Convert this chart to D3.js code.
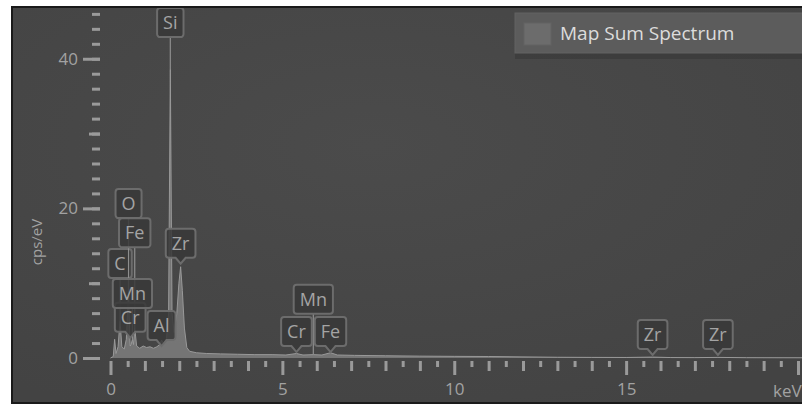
<!DOCTYPE html>
<html>
<head>
<meta charset="utf-8">
<script src="https://cdn.jsdelivr.net/npm/d3@7"></script>
<style>
  html, body { margin: 0; padding: 0; background: #fff; }
  svg { display: block; }
  text { font-family: "Open Sans", "Noto Sans", sans-serif; }
</style>
</head>
<body>
<div id="chart"></div>
<script>
// Spectrum: energy (keV) and counts (cps/eV)
const energies = [0.00, 0.08, 0.12, 0.16, 0.22, 0.277, 0.33, 0.40, 0.46, 0.525, 0.56, 0.573, 0.60,
  0.637, 0.67, 0.705, 0.76, 0.85, 0.95, 1.05, 1.15, 1.25, 1.35, 1.43, 1.486, 1.55, 1.63, 1.69,
  1.74, 1.79, 1.85, 1.93, 1.99, 2.04, 2.09, 2.15, 2.22, 2.30, 2.50, 2.80, 3.20, 3.70, 4.20, 4.70,
  5.10, 5.41, 5.60, 5.90, 6.15, 6.40, 6.60, 7.10, 8.00, 9.00, 10.0, 11.0, 12.0, 13.0, 14.0, 15.0,
  15.77, 16.3, 17.0, 17.67, 18.5, 20.2];
const counts = [0.0, 0.2, 2.5, 0.6, 1.5, 5.0, 1.5, 1.2, 2.5, 9.0, 3.0, 1.6, 1.8,
  2.5, 1.8, 4.0, 1.6, 1.3, 1.6, 1.4, 1.5, 1.3, 1.5, 1.8, 2.4, 1.9, 2.6, 6.0,
  38.6, 6.0, 3.4, 6.0, 10.0, 12.2, 9.0, 4.0, 1.4, 0.9, 0.7, 0.6, 0.55, 0.5, 0.45, 0.45,
  0.4, 0.6, 0.4, 0.45, 0.4, 0.7, 0.4, 0.35, 0.3, 0.25, 0.22, 0.2, 0.15, 0.1, 0.08, 0.07,
  0.12, 0.06, 0.05, 0.08, 0.04, 0.03];

// Peak labels: element, line energy (keV), label anchor height (cps/eV)
const labelNames = ['C', 'O', 'Cr', 'Mn', 'Fe', 'Al', 'Si', 'Zr', 'Cr', 'Mn', 'Fe', 'Zr', 'Zr'];
const labelEnergies = [0.277, 0.525, 0.573, 0.637, 0.705, 1.486, 1.74, 2.04, 5.41, 5.90, 6.40, 15.77, 17.67];
const labelLevels = [10.7, 18.7, 2.7, 6.7, 14.8, 1.6, 42.9, 12.6, 0.8, 5.9, 0.8, 0.4, 0.4];

const yMinorTicks = d3.range(0, 47, 2);
const yMidTicks = [10, 30];
const yMajorTicks = [0, 20, 40];
const xHalfTicks = d3.range(0.5, 20.5, 1);
const xUnitTicks = d3.range(0, 21, 1).filter(d => d % 5 !== 0);
const xMajorTicks = [0, 5, 10, 15, 20];
const xLabels = [0, 5, 10, 15];
const seriesName = 'Map Sum Spectrum';

const W = 802, H = 405;
const svg = d3.select('#chart').append('svg').attr('width', W).attr('height', H);

const defs = svg.append('defs');
const grad = defs.append('radialGradient').attr('id', 'bg')
  .attr('cx', '45%').attr('cy', '35%').attr('r', '75%');
grad.append('stop').attr('offset', '0%').attr('stop-color', '#4b4b4b');
grad.append('stop').attr('offset', '100%').attr('stop-color', '#434343');
defs.append('clipPath').attr('id', 'clip')
  .append('rect').attr('x', 13).attr('y', 8).attr('width', W).attr('height', 394);

// Panel
svg.append('rect')
  .attr('x', 12).attr('y', 7).attr('width', W).attr('height', 396)
  .attr('fill', 'url(#bg)').attr('stroke', '#1a1a1a').attr('stroke-width', 2);

// Scales
const x = d3.scaleLinear().domain([0, 20]).range([110.5, 798]);
const y = d3.scaleLinear().domain([0, 47]).range([358, 6.4]);

const plot = svg.append('g').attr('clip-path', 'url(#clip)');

// Spectrum
const spec = energies.map((e, i) => ({e, c: counts[i]}));
plot.append('path')
  .datum(spec)
  .attr('d', d3.area().x(d => x(d.e)).y0(y(0)).y1(d => y(d.c)))
  .attr('fill', '#8a8a8a').attr('fill-opacity', 0.7);
plot.append('path')
  .datum(spec)
  .attr('d', d3.line().x(d => x(d.e)).y(d => y(d.c)))
  .attr('fill', 'none').attr('stroke', '#999').attr('stroke-width', 1);

// Axes
function styleAxis(g) {
  g.select('.domain').remove();
  g.selectAll('.tick line').attr('stroke', '#9a9a9a').attr('stroke-width', 3);
  g.selectAll('.tick text').attr('fill', '#a2a2a2').style('font-size', '17px');
}

const yAxisX = 100;
svg.append('g').attr('transform', `translate(${yAxisX},0)`)
  .call(d3.axisLeft(y).tickValues(yMinorTicks).tickSize(8).tickFormat(''))
  .call(styleAxis);
svg.append('g').attr('transform', `translate(${yAxisX},0)`)
  .call(d3.axisLeft(y).tickValues(yMidTicks).tickSize(11).tickFormat(''))
  .call(styleAxis);
svg.append('g').attr('transform', `translate(${yAxisX},0)`)
  .call(d3.axisLeft(y).tickValues(yMajorTicks).tickSize(17).tickPadding(5))
  .call(styleAxis);

const xAxisY = 361;
svg.append('g').attr('transform', `translate(0,${xAxisY})`)
  .call(d3.axisBottom(x).tickValues(xHalfTicks).tickSize(6).tickFormat(''))
  .call(styleAxis);
svg.append('g').attr('transform', `translate(0,${xAxisY})`)
  .call(d3.axisBottom(x).tickValues(xUnitTicks).tickSize(10).tickFormat(''))
  .call(styleAxis);
svg.append('g').attr('transform', `translate(0,${xAxisY})`)
  .call(d3.axisBottom(x).tickValues(xMajorTicks).tickSize(14).tickFormat(''))
  .call(styleAxis);
svg.append('g').attr('transform', `translate(0,${xAxisY})`)
  .call(d3.axisBottom(x).tickValues(xLabels).tickSize(0).tickPadding(22))
  .call(styleAxis);

svg.append('text')
  .attr('x', x(20) - 25).attr('y', 397)
  .attr('fill', '#a2a2a2').style('font-size', '17px')
  .text('keV');

svg.append('text')
  .attr('transform', 'translate(42,242) rotate(-90)')
  .attr('text-anchor', 'middle')
  .attr('fill', '#a2a2a2').style('font-size', '15px')
  .text('cps/eV');

// Peak labels
function specAt(e) {
  let best = spec[0];
  spec.forEach(d => { if (Math.abs(d.e - e) < Math.abs(best.e - e)) best = d; });
  return best.c;
}

const labels = labelNames.map((name, i) => ({
  name, e: labelEnergies[i], level: labelLevels[i], peak: specAt(labelEnergies[i])
}));

const lg = plot.append('g');
labels.forEach(d => {
  const lead = d.level - d.peak > 2;
  const cx = x(d.e);
  const tip = y(d.level);
  const bottom = lead ? tip : tip - 6;
  const h = 29;
  const top = bottom - h;

  const t = lg.append('text')
    .attr('x', cx).attr('y', bottom - 8)
    .attr('text-anchor', 'middle')
    .attr('fill', '#a4a4a4').style('font-size', '18px')
    .text(d.name);
  const w = t.node().getComputedTextLength() + 12;
  const l = cx - w / 2, r = cx + w / 2, rr = 3;

  if (lead) {
    lg.insert('line', 'text')
      .attr('x1', cx).attr('x2', cx)
      .attr('y1', bottom).attr('y2', y(d.peak))
      .attr('stroke', '#8e8e8e').attr('stroke-width', 1.2);
  }

  const p = d3.path();
  p.moveTo(l + rr, top);
  p.lineTo(r - rr, top);
  p.arcTo(r, top, r, top + rr, rr);
  p.lineTo(r, bottom - rr);
  p.arcTo(r, bottom, r - rr, bottom, rr);
  if (!lead) {
    p.lineTo(cx + 5, bottom);
    p.lineTo(cx, bottom + 6);
    p.lineTo(cx - 5, bottom);
  }
  p.lineTo(l + rr, bottom);
  p.arcTo(l, bottom, l, bottom - rr, rr);
  p.lineTo(l, top + rr);
  p.arcTo(l, top, l + rr, top, rr);
  p.closePath();

  lg.insert('path', 'text:last-of-type')
    .attr('d', p.toString())
    .attr('fill', '#383838').attr('fill-opacity', 0.85)
    .attr('stroke', '#6c6c6c').attr('stroke-width', 2);
  t.raise();
});

// Legend
const leg = svg.append('g');
leg.append('rect')
  .attr('x', 515).attr('y', 53).attr('width', 300).attr('height', 6)
  .attr('fill', '#333').attr('opacity', 0.5);
leg.append('rect')
  .attr('x', 515).attr('y', 13).attr('width', 300).attr('height', 40)
  .attr('fill', '#5c5c5c').attr('stroke', '#626262').attr('stroke-width', 1);
leg.append('rect')
  .attr('x', 524).attr('y', 23).attr('width', 27).attr('height', 22)
  .attr('fill', '#6c6c6c').attr('stroke', '#636363');
leg.append('text')
  .attr('x', 560).attr('y', 40)
  .attr('fill', '#dcdcdc').style('font-size', '19px')
  .text(seriesName);
</script>
</body>
</html>
